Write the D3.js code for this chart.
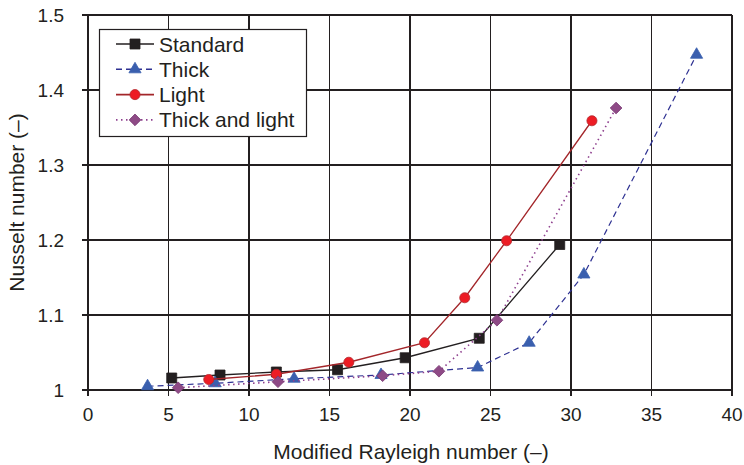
<!DOCTYPE html>
<meta charset="utf-8">
<style>
    body { margin: 0; background: #fff; }
    text { font-family: "Liberation Sans", Arial, Helvetica, sans-serif; fill: #231f20; }
    .grid line { stroke: #231f20; stroke-width: 1.3; shape-rendering: crispEdges; }
</style>
<svg width="744" height="465"></svg>
<script src="https://cdnjs.cloudflare.com/ajax/libs/d3/7.8.5/d3.min.js"></script>
<script>

    // data
    var seriesNames = ["Standard", "Thick", "Light", "Thick and light"];

    var standardX = [5.2, 8.2, 11.7, 15.5, 19.7, 24.3, 29.3];
    var standardY = [1.016, 1.020, 1.024, 1.027, 1.043, 1.069, 1.194];

    var thickX = [3.7, 7.9, 12.8, 18.2, 24.2, 27.4, 30.8, 37.8];
    var thickY = [1.005, 1.009, 1.015, 1.020, 1.030, 1.063, 1.154, 1.447];

    var lightX = [7.5, 11.7, 16.2, 20.9, 23.4, 26.0, 31.3];
    var lightY = [1.014, 1.021, 1.037, 1.063, 1.123, 1.199, 1.359];

    var thickLightX = [5.6, 11.8, 18.3, 21.8, 25.4, 32.8];
    var thickLightY = [1.003, 1.011, 1.019, 1.025, 1.093, 1.376];

    var xTicks = [0, 5, 10, 15, 20, 25, 30, 35, 40];
    var yTicks = [1, 1.1, 1.2, 1.3, 1.4, 1.5];

    var svg = d3.select("svg"),
        pLeft = 88, pRight = 732, pTop = 15, pBottom = 390;

    var x = d3.scaleLinear().domain([0, 40]).range([pLeft, pRight]);
    var y = d3.scaleLinear().domain([1, 1.5]).range([pBottom, pTop]);

    // grid
    var grid = svg.append("g").attr("class", "grid");
    grid.selectAll(".vx").data(xTicks).enter().append("line")
        .attr("x1", d => x(d)).attr("x2", d => x(d))
        .attr("y1", pTop).attr("y2", pBottom + 6);
    grid.selectAll(".hy").data(yTicks).enter().append("line")
        .attr("x1", pLeft - 6).attr("x2", pRight)
        .attr("y1", d => y(d)).attr("y2", d => y(d));

    // tick labels
    svg.append("g").selectAll("text").data(xTicks).enter().append("text")
        .attr("x", d => x(d)).attr("y", 421)
        .attr("text-anchor", "middle")
        .style("font-size", "19px")
        .text(d => d);

    svg.append("g").selectAll("text").data(yTicks).enter().append("text")
        .attr("x", 64).attr("y", d => y(d) + 7)
        .attr("text-anchor", "end")
        .style("font-size", "19px")
        .text(d => d3.format(".1~f")(d));

    svg.append("text")
        .attr("x", (pLeft + pRight) / 2 + 1).attr("y", 459)
        .attr("text-anchor", "middle")
        .style("font-size", "21px")
        .text("Modified Rayleigh number (\u2013)");

    svg.append("text")
        .attr("transform", "translate(24," + ((pTop + pBottom) / 2) + ")rotate(-90)")
        .attr("text-anchor", "middle")
        .style("font-size", "21px")
        .text("Nusselt number (\u2013)");

    var series = [
        { name: seriesNames[0], xs: standardX, ys: standardY, line: "#231f20", dash: null, width: 1.3,
          sym: d3.symbolSquare, size: 100, rot: 0, fill: "#231f20", stroke: "#231f20" },
        { name: seriesNames[1], xs: thickX, ys: thickY, line: "#2e3192", dash: "6,4", width: 1.2,
          sym: d3.symbolTriangle, size: 64, rot: 0, fill: "#3a5fae", stroke: "#3a5fae" },
        { name: seriesNames[2], xs: lightX, ys: lightY, line: "#a3262a", dash: null, width: 1.3,
          sym: d3.symbolCircle, size: 80, rot: 0, fill: "#ed1c24", stroke: "#b3282d" },
        { name: seriesNames[3], xs: thickLightX, ys: thickLightY, line: "#8e3f8e", dash: "1.5,3.5", width: 1.6,
          sym: d3.symbolSquare, size: 68, rot: 45, fill: "#8e4a86", stroke: "#7a3a74" }
    ];

    var line = d3.line().x(d => x(d[0])).y(d => y(d[1]));

    series.forEach(function(s) {
        var pts = s.xs.map((v, i) => [v, s.ys[i]]);
        svg.append("path")
            .datum(pts)
            .attr("d", line)
            .attr("fill", "none")
            .attr("stroke", s.line)
            .attr("stroke-width", s.width)
            .attr("stroke-dasharray", s.dash);
        svg.append("g").selectAll("path").data(pts).enter().append("path")
            .attr("transform", d => "translate(" + x(d[0]) + "," + y(d[1]) + ")rotate(" + s.rot + ")")
            .attr("d", d3.symbol().type(s.sym).size(s.size))
            .attr("fill", s.fill)
            .attr("stroke", s.stroke)
            .attr("stroke-width", 0.8);
    });

    // legend
    var lg = svg.append("g");
    lg.append("rect")
        .attr("x", 99.5).attr("y", 29.5).attr("width", 207).attr("height", 107)
        .attr("fill", "#fff").attr("stroke", "#231f20").attr("stroke-width", 1.2);

    series.forEach(function(s, i) {
        var cy = 44 + i * 25.3;
        lg.append("line")
            .attr("x1", 116).attr("x2", 154).attr("y1", cy).attr("y2", cy)
            .attr("stroke", s.line).attr("stroke-width", s.width + 0.3)
            .attr("stroke-dasharray", s.dash);
        lg.append("path")
            .attr("transform", "translate(135," + cy + ")rotate(" + s.rot + ")")
            .attr("d", d3.symbol().type(s.sym).size(s.size))
            .attr("fill", s.fill).attr("stroke", s.stroke).attr("stroke-width", 0.8);
        lg.append("text")
            .attr("x", 159).attr("y", cy + 7.5)
            .style("font-size", "21px")
            .text(s.name);
    });

</script>
